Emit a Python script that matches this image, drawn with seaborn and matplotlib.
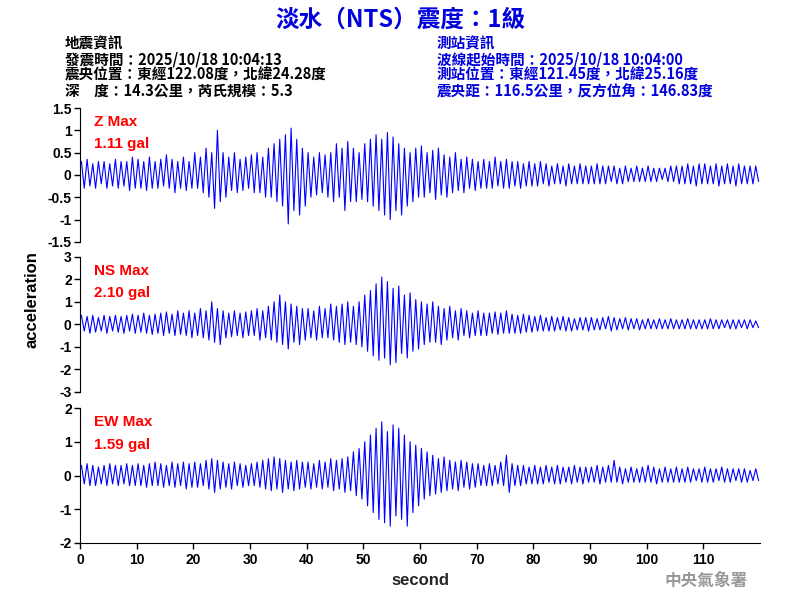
import numpy as np
import pandas as pd
import matplotlib
matplotlib.use("Agg")
import matplotlib.pyplot as plt
import seaborn as sns

# per-second (peak, trough) pairs, seconds 0..119
z_pairs = [(0.3,-0.3),(0.35,-0.25),(0.25,-0.3),(0.3,-0.2),(0.3,-0.3),(0.25,-0.25),(0.35,-0.3),(0.3,-0.25),(0.3,-0.35),(0.4,-0.3),
    (0.35,-0.3),(0.3,-0.35),(0.4,-0.3),(0.3,-0.3),(0.35,-0.25),(0.45,-0.3),(0.35,-0.4),(0.3,-0.3),(0.4,-0.35),(0.3,-0.3),
    (0.5,-0.3),(0.4,-0.4),(0.6,-0.5),(0.5,-0.75),(1.0,-0.6),(0.5,-0.5),(0.4,-0.35),(0.5,-0.4),(0.35,-0.35),(0.4,-0.3),
    (0.45,-0.4),(0.5,-0.4),(0.4,-0.5),(0.6,-0.5),(0.7,-0.6),(0.8,-0.7),(0.9,-1.1),(1.05,-0.8),(0.8,-0.9),(0.6,-0.7),
    (0.5,-0.5),(0.4,-0.45),(0.5,-0.4),(0.45,-0.5),(0.5,-0.6),(0.7,-0.5),(0.6,-0.8),(0.75,-0.6),(0.6,-0.6),(0.5,-0.55),
    (0.7,-0.6),(0.8,-0.7),(0.9,-0.8),(0.8,-0.9),(0.95,-1.0),(0.85,-0.8),(0.7,-0.9),(0.6,-0.7),(0.5,-0.6),(0.6,-0.5),
    (0.65,-0.5),(0.5,-0.4),(0.55,-0.55),(0.6,-0.45),(0.45,-0.5),(0.4,-0.4),(0.5,-0.35),(0.35,-0.4),(0.4,-0.3),(0.35,-0.35),
    (0.3,-0.3),(0.35,-0.3),(0.3,-0.3),(0.4,-0.25),(0.3,-0.3),(0.35,-0.3),(0.3,-0.25),(0.3,-0.3),(0.25,-0.25),(0.3,-0.25),
    (0.25,-0.25),(0.3,-0.2),(0.25,-0.25),(0.2,-0.2),(0.25,-0.2),(0.2,-0.25),(0.25,-0.2),(0.2,-0.2),(0.25,-0.2),(0.2,-0.2),
    (0.2,-0.2),(0.25,-0.2),(0.2,-0.2),(0.2,-0.15),(0.2,-0.2),(0.15,-0.2),(0.2,-0.15),(0.15,-0.15),(0.2,-0.15),(0.15,-0.15),
    (0.2,-0.15),(0.15,-0.15),(0.15,-0.1),(0.15,-0.15),(0.2,-0.15),(0.2,-0.2),(0.2,-0.2),(0.25,-0.2),(0.2,-0.25),(0.25,-0.2),
    (0.25,-0.2),(0.2,-0.2),(0.25,-0.25),(0.2,-0.2),(0.25,-0.2),(0.2,-0.25),(0.25,-0.2),(0.2,-0.2),(0.2,-0.2),(0.2,-0.15)]

ns_pairs = [(0.4,-0.3),(0.35,-0.4),(0.4,-0.35),(0.3,-0.3),(0.4,-0.4),(0.35,-0.3),(0.4,-0.35),(0.35,-0.4),(0.4,-0.3),(0.45,-0.4),
    (0.4,-0.35),(0.5,-0.4),(0.4,-0.45),(0.45,-0.4),(0.5,-0.5),(0.55,-0.4),(0.45,-0.5),(0.6,-0.45),(0.5,-0.5),(0.6,-0.6),
    (0.5,-0.5),(0.7,-0.6),(0.6,-0.7),(1.0,-0.8),(0.7,-0.9),(0.6,-0.6),(0.5,-0.55),(0.6,-0.5),(0.5,-0.6),(0.55,-0.5),
    (0.6,-0.5),(0.7,-0.7),(0.6,-0.6),(0.8,-0.7),(1.0,-0.8),(1.3,-0.9),(1.0,-1.1),(0.9,-0.8),(0.8,-0.9),(0.7,-0.7),
    (0.7,-0.6),(0.6,-0.7),(0.8,-0.6),(0.7,-0.6),(0.9,-0.7),(0.8,-0.8),(0.9,-0.9),(1.0,-0.8),(0.8,-0.9),(1.0,-1.0),
    (1.3,-1.2),(1.5,-1.4),(1.8,-1.6),(2.1,-1.5),(1.9,-1.8),(1.6,-1.7),(1.7,-1.3),(1.3,-1.5),(1.4,-1.2),(1.1,-1.1),
    (1.0,-0.9),(0.9,-0.8),(1.0,-0.8),(0.8,-0.9),(0.7,-0.7),(0.8,-0.6),(0.6,-0.7),(0.7,-0.5),(0.6,-0.6),(0.5,-0.5),
    (0.6,-0.5),(0.5,-0.5),(0.5,-0.4),(0.55,-0.45),(0.5,-0.4),(0.6,-0.4),(0.45,-0.4),(0.4,-0.4),(0.45,-0.35),(0.4,-0.35),
    (0.35,-0.3),(0.4,-0.3),(0.3,-0.3),(0.35,-0.3),(0.3,-0.25),(0.35,-0.3),(0.3,-0.3),(0.25,-0.25),(0.3,-0.25),(0.3,-0.3),
    (0.3,-0.25),(0.25,-0.25),(0.3,-0.2),(0.35,-0.3),(0.3,-0.25),(0.25,-0.2),(0.3,-0.25),(0.25,-0.2),(0.25,-0.25),(0.2,-0.2),
    (0.25,-0.2),(0.2,-0.2),(0.25,-0.2),(0.2,-0.2),(0.25,-0.2),(0.2,-0.2),(0.2,-0.2),(0.25,-0.2),(0.2,-0.2),(0.2,-0.2),
    (0.2,-0.2),(0.25,-0.2),(0.2,-0.2),(0.2,-0.15),(0.2,-0.2),(0.2,-0.2),(0.2,-0.15),(0.2,-0.2),(0.2,-0.15),(0.15,-0.15)]

ew_pairs = [(0.3,-0.25),(0.35,-0.3),(0.3,-0.3),(0.25,-0.25),(0.3,-0.3),(0.35,-0.25),(0.3,-0.3),(0.3,-0.25),(0.35,-0.3),(0.3,-0.3),
    (0.35,-0.3),(0.3,-0.35),(0.35,-0.3),(0.4,-0.3),(0.35,-0.35),(0.3,-0.3),(0.4,-0.35),(0.35,-0.3),(0.4,-0.4),(0.35,-0.35),
    (0.4,-0.35),(0.35,-0.3),(0.45,-0.4),(0.5,-0.5),(0.45,-0.4),(0.4,-0.35),(0.35,-0.4),(0.4,-0.3),(0.35,-0.35),(0.3,-0.3),
    (0.35,-0.3),(0.4,-0.35),(0.45,-0.4),(0.5,-0.45),(0.55,-0.4),(0.5,-0.5),(0.45,-0.4),(0.4,-0.45),(0.45,-0.4),(0.4,-0.35),
    (0.4,-0.4),(0.35,-0.35),(0.45,-0.4),(0.4,-0.35),(0.5,-0.45),(0.45,-0.4),(0.5,-0.5),(0.55,-0.45),(0.7,-0.6),(0.8,-0.7),
    (1.0,-0.9),(1.2,-1.1),(1.4,-1.3),(1.59,-1.4),(1.3,-1.5),(1.5,-1.2),(1.4,-1.3),(1.2,-1.5),(1.0,-1.1),(0.9,-0.9),
    (0.8,-0.7),(0.7,-0.6),(0.6,-0.55),(0.5,-0.5),(0.55,-0.45),(0.45,-0.4),(0.4,-0.45),(0.45,-0.35),(0.4,-0.4),(0.35,-0.35),
    (0.35,-0.3),(0.3,-0.3),(0.35,-0.3),(0.3,-0.25),(0.4,-0.3),(0.6,-0.5),(0.35,-0.3),(0.3,-0.3),(0.3,-0.25),(0.25,-0.25),
    (0.3,-0.25),(0.25,-0.25),(0.3,-0.2),(0.25,-0.25),(0.3,-0.25),(0.25,-0.2),(0.25,-0.25),(0.3,-0.2),(0.25,-0.25),(0.25,-0.2),
    (0.25,-0.2),(0.3,-0.25),(0.25,-0.2),(0.3,-0.2),(0.45,-0.2),(0.25,-0.25),(0.2,-0.2),(0.25,-0.2),(0.2,-0.2),(0.25,-0.2),
    (0.3,-0.2),(0.25,-0.25),(0.2,-0.2),(0.25,-0.2),(0.2,-0.2),(0.25,-0.2),(0.2,-0.2),(0.25,-0.2),(0.2,-0.15),(0.2,-0.2),
    (0.25,-0.2),(0.2,-0.2),(0.2,-0.15),(0.25,-0.2),(0.2,-0.2),(0.2,-0.15),(0.2,-0.2),(0.2,-0.2),(0.15,-0.15),(0.2,-0.15)]

components = ["Z", "NS", "EW"]
max_labels = ["1.11 gal", "2.10 gal", "1.59 gal"]
y_limits = [(-1.5, 1.5), (-3, 3), (-2, 2)]
y_ticks = [[-1.5, -1, -0.5, 0, 0.5, 1, 1.5], [-3, -2, -1, 0, 1, 2, 3], [-2, -1, 0, 1, 2]]
x_ticks = list(range(0, 120, 10))


def to_frame(pairs):
    rows = []
    for sec, (hi, lo) in enumerate(pairs):
        rows.append((sec + 0.25, hi))
        rows.append((sec + 0.75, lo))
    return pd.DataFrame(rows, columns=["t", "acc"])


sns.set_style("white")
plt.rcParams['font.family'] = ['Liberation Sans', 'Noto Sans CJK TC', 'DejaVu Sans']
plt.rcParams['text.color'] = 'black'
plt.rcParams['xtick.color'] = 'black'
plt.rcParams['ytick.color'] = 'black'
cjk = ['Noto Sans CJK TC', 'DejaVu Sans']

fig = plt.figure(figsize=(8, 6), dpi=100)
boxes = [(0.1, 0.597, 0.85, 0.223), (0.1, 0.347, 0.85, 0.225), (0.1, 0.095, 0.85, 0.225)]

for i, pairs in enumerate([z_pairs, ns_pairs, ew_pairs]):
    ax = fig.add_axes(boxes[i])
    sns.lineplot(data=to_frame(pairs), x="t", y="acc", ax=ax, color="blue",
                 linewidth=0.8, estimator=None, sort=False)
    ax.set_xlim(0, 120)
    ax.set_ylim(*y_limits[i])
    ax.set_yticks(y_ticks[i])
    ax.set_yticklabels([f"{v:g}" for v in y_ticks[i]], fontsize=10, fontweight="bold")
    ax.tick_params(axis="y", left=True, length=4, width=1, pad=2)
    ax.set_ylabel("")
    ax.set_xlabel("")
    for s in ["top", "right"]:
        ax.spines[s].set_visible(False)
    ax.spines["left"].set_color("black")
    ax.text(0.02, 0.95, f"{components[i]} Max", transform=ax.transAxes, color="red",
            fontsize=11, va="top", fontweight="bold")
    ax.text(0.02, 0.78, max_labels[i], transform=ax.transAxes, color="red",
            fontsize=11, va="top", fontweight="bold")
    if i < 2:
        ax.spines["bottom"].set_visible(False)
        ax.set_xticks([])
    else:
        ax.spines["bottom"].set_color("black")
        ax.set_xticks(x_ticks)
        ax.set_xticklabels([str(v) for v in x_ticks], fontsize=10, fontweight="bold")
        ax.tick_params(axis="x", bottom=True, length=4, width=1)
        ax.set_xlabel("second", fontsize=12, fontweight="bold")

fig.text(0.04, 0.5, "acceleration", rotation=90, va="center", ha="center",
         fontsize=12, fontweight="bold")
fig.text(0.5, 0.968, "淡水（NTS）震度：1級", ha="center", va="center", color="#0000dd",
         fontsize=17, fontweight="bold", family=cjk)

left_info = ["地震資訊", "發震時間：2025/10/18 10:04:13", "震央位置：東經122.08度，北緯24.28度",
             "深　度：14.3公里，芮氏規模：5.3"]
right_info = ["測站資訊", "波線起始時間：2025/10/18 10:04:00", "測站位置：東經121.45度，北緯25.16度",
              "震央距：116.5公里，反方位角：146.83度"]
for k, (a, b) in enumerate(zip(left_info, right_info)):
    y = 0.92 - k * 0.0267
    fig.text(0.081, y, a, fontsize=10.5, va="baseline", family=cjk, color="black",
             fontweight="bold")
    fig.text(0.546, y, b, fontsize=10.5, va="baseline", family=cjk, color="#0000dd",
             fontweight="bold")

fig.text(0.935, 0.032, "中央氣象署", ha="right", va="center", color="#999999",
         fontsize=12, fontweight="bold", family=cjk)

fig.savefig("out.png", dpi=100)
